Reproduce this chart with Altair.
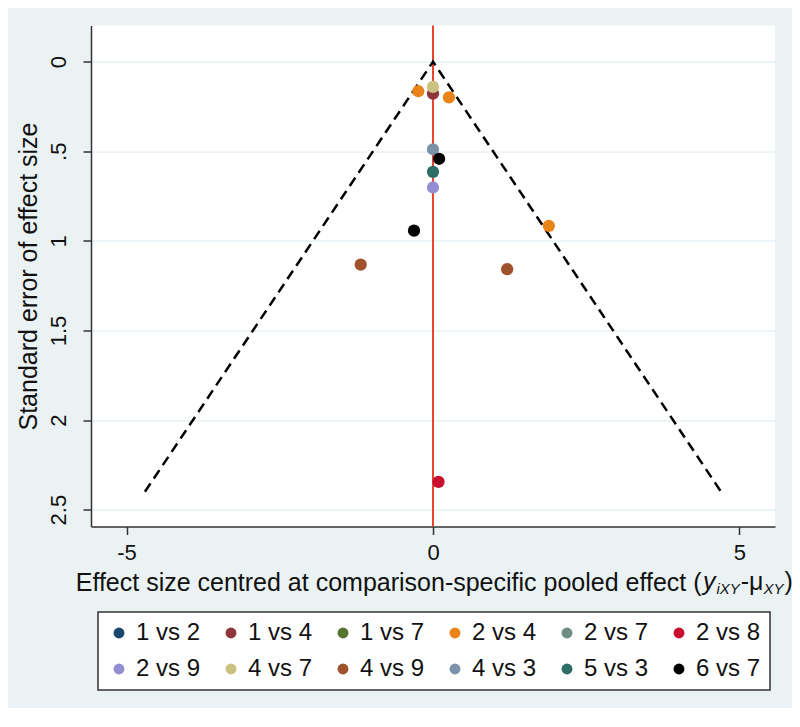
import altair as alt
import pandas as pd

# ---------------- data ----------------
groups = ["1 vs 2", "1 vs 4", "1 vs 7", "2 vs 4", "2 vs 7", "2 vs 8",
          "2 vs 9", "4 vs 7", "4 vs 9", "4 vs 3", "5 vs 3", "6 vs 7"]
group_colors = ["#1A476F", "#90353B", "#55752F", "#E8841A", "#6E8E84", "#C8102E",
                "#938DD2", "#CAC27E", "#A0522D", "#7B92A8", "#2D6D66", "#000000"]

# observed studies: comparison, centred effect size, standard error
pt_group = ["1 vs 4", "2 vs 4", "2 vs 4", "2 vs 4", "2 vs 8", "2 vs 9",
            "4 vs 7", "4 vs 9", "4 vs 9", "4 vs 3", "5 vs 3", "6 vs 7", "6 vs 7"]
pt_x = [0.0, -0.24, 0.26, 1.89, 0.09, 0.0,
        0.0, -1.18, 1.21, 0.0, 0.0, 0.10, -0.31]
pt_se = [0.178, 0.165, 0.199, 0.916, 2.345, 0.702,
         0.141, 1.133, 1.158, 0.489, 0.615, 0.542, 0.943]

# pseudo 95% confidence funnel
funnel_x = [-4.70, 0.0, 4.70]
funnel_se = [2.40, 0.0, 2.40]

x_ticks = [-5, 0, 5]
y_ticks = [0, 0.5, 1, 1.5, 2, 2.5]

# ---------------- layout ----------------
W, H = 684, 501
FONT = "Liberation Sans"
TXT = "#111111"

order_idx = {g: i for i, g in enumerate(groups)}
pts = pd.DataFrame({"grp": pt_group, "x": pt_x, "se": pt_se})
pts["k"] = pts["grp"].map(order_idx)
pts = pts.sort_values("k", kind="stable")

fun = pd.DataFrame({"x": funnel_x, "se": funnel_se, "o": list(range(len(funnel_x)))})
zero = pd.DataFrame({"x": [0.0]})

xs = alt.Scale(domain=[-5.58, 5.58], nice=False, zero=False)
ys = alt.Scale(domain=[-0.2018, 2.594], nice=False, zero=False, reverse=True)

# Arial / Liberation Sans advance widths (per 1000 em)
AW = {' ': 278, 'E': 667, 'f': 278, 'e': 556, 'c': 500, 't': 278, 's': 500, 'i': 222,
      'z': 500, 'n': 556, 'r': 333, 'd': 556, 'a': 556, 'o': 556, 'm': 833, 'p': 556,
      '-': 333, 'l': 222, '(': 333, ')': 333, 'y': 500, 'X': 667, 'Y': 667, 'μ': 576}


def tw(s, size):
    return sum(AW.get(ch, 556) for ch in s) * size / 1000.0


main_title = "Effect size centred at comparison-specific pooled effect ("
BIG, SMALL = 25, 15
pieces = [("y", BIG, "italic", 0), ("iXY", SMALL, "italic", 1), ("-μ", BIG, "normal", 0),
          ("XY", SMALL, "italic", 1), (")", BIG, "normal", 0)]
total = tw(main_title, BIG) + sum(tw(p[0], p[1]) for p in pieces) + 2
start = W / 2 - total / 2
base_y = 564.5

x_axis = alt.Axis(values=x_ticks, grid=False, labelFontSize=22, labelFont=FONT,
                  labelExpr="datum.value < 0 ? '-' + format(-datum.value, '~g') : format(datum.value, '~g')",
                  labelColor=TXT, labelBaseline="alphabetic", labelPadding=25,
                  tickSize=8, tickWidth=1.5, tickColor="#333333",
                  domainColor="#333333", domainWidth=1.5,
                  title=main_title, titleFont=FONT, titleFontSize=BIG,
                  titleFontWeight="normal", titleColor=TXT, titleAngle=0,
                  titleAlign="left", titleBaseline="alphabetic",
                  titleX=start, titleY=base_y - H)
y_axis = alt.Axis(values=y_ticks, grid=True, gridColor="#dbeaf0", gridWidth=1,
                  labelExpr="datum.value == 0.5 ? '.5' : format(datum.value, '~g')",
                  labelAngle=270, labelAlign="center", labelBaseline="alphabetic",
                  labelFontSize=22, labelFont=FONT, labelColor=TXT, labelPadding=18,
                  tickSize=8, tickWidth=1.5, tickColor="#333333",
                  domainColor="#333333", domainWidth=1.5,
                  title="Standard error of effect size", titleFont=FONT,
                  titleFontSize=BIG, titleFontWeight="normal", titleColor=TXT,
                  titleAngle=270, titleAlign="center", titleBaseline="alphabetic",
                  titleX=-55, titleY=H / 2)

rule = alt.Chart(zero).mark_rule(color="#E8442E", strokeWidth=2).encode(
    x=alt.X("x:Q", scale=xs, axis=x_axis))

line = alt.Chart(fun).mark_line(color="black", strokeWidth=2.5, strokeDash=[10, 6]).encode(
    x=alt.X("x:Q", scale=xs, axis=x_axis),
    y=alt.Y("se:Q", scale=ys, axis=y_axis),
    order="o:Q")

points = alt.Chart(pts).mark_circle(size=150, opacity=1).encode(
    x=alt.X("x:Q", scale=xs, axis=x_axis),
    y=alt.Y("se:Q", scale=ys, axis=y_axis),
    color=alt.Color("grp:N", scale=alt.Scale(domain=groups, range=group_colors),
                    legend=alt.Legend(orient="none", legendX=7, legendY=586.5,
                                      direction="horizontal", columns=6,
                                      symbolType="circle", symbolSize=120,
                                      symbolStrokeWidth=0, symbolOpacity=1,
                                      labelFont=FONT, labelFontSize=24, labelColor=TXT,
                                      labelOffset=5, labelLimit=300,
                                      columnPadding=18, rowPadding=12, padding=9,
                                      strokeColor="#333333", fillColor="white",
                                      title=None)),
    order="k:Q")

layers = [rule, line, points]
cx = start + tw(main_title, BIG) + 1
for txt, size, style, sub in pieces:
    layers.append(
        alt.Chart(alt.Data(values=[{}])).mark_text(
            text=txt, font=FONT, fontSize=size, fontStyle=style, color=TXT,
            align="left", baseline="alphabetic"
        ).encode(x=alt.value(cx), y=alt.value(base_y + (4 if sub else 0)))
    )
    cx += tw(txt, size) + (1 if style == "italic" else 0)

chart = alt.layer(*layers).properties(
    width=W, height=H,
    autosize=alt.AutoSizeParams(type="none"),
    padding={"left": 83, "top": 17.5, "right": 17, "bottom": 181},
    background="#EAF2F3",
).configure_view(fill="white", strokeWidth=0).configure_legend(strokeWidth=1.5)

chart.save("out.html", embed_options={"renderer": "svg", "actions": False})
